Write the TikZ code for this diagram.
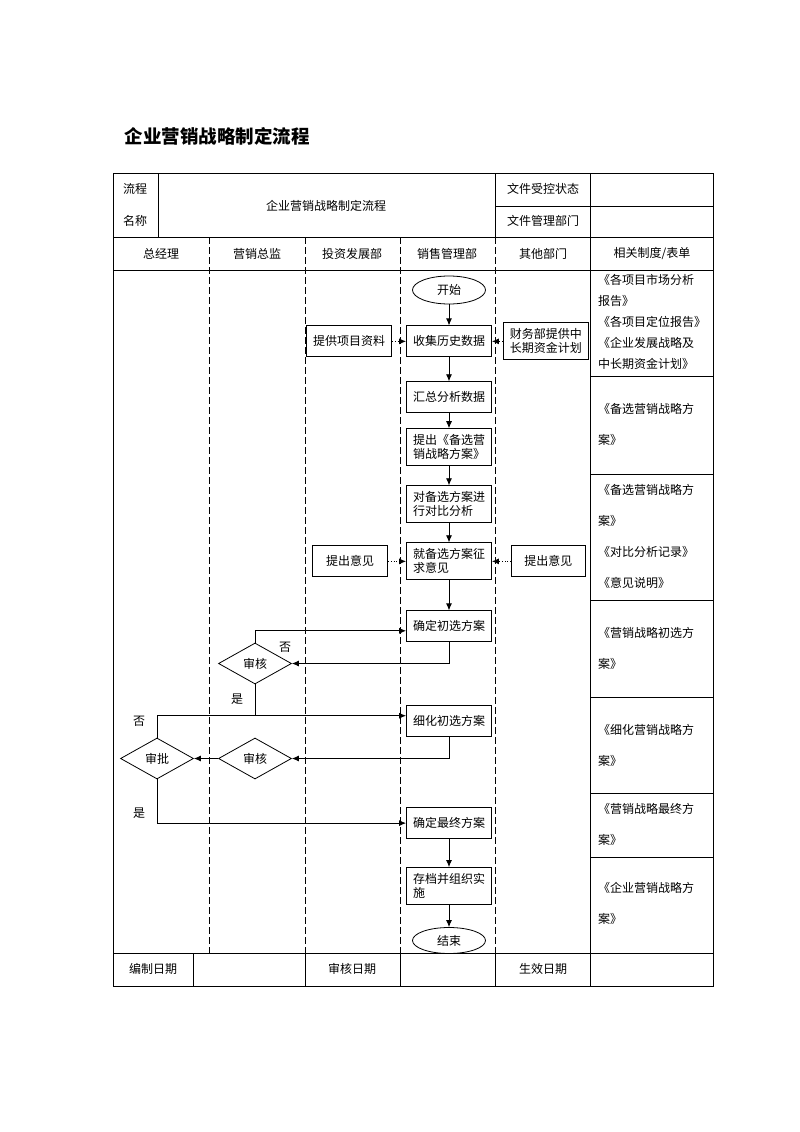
\documentclass[tikz,border=0pt]{standalone}
\usepackage{fontspec}
\setmainfont{Noto Sans CJK SC}
\usetikzlibrary{positioning,shapes.geometric,arrows.meta}

\tikzset{
  proc/.style = {draw, line width=0.9pt, minimum width=85pt, minimum height=31pt,
                 inner xsep=3pt, inner ysep=6pt, align=left},
  term/.style = {draw, ellipse, line width=0.8pt, minimum width=73pt, minimum height=28pt, inner sep=0pt},
  decide/.style = {draw, diamond, line width=0.8pt, minimum width=73pt, minimum height=41pt, inner sep=0pt},
  flow/.style = {-{Latex[length=7pt,width=6pt]}, line width=0.8pt},
  hint/.style = {flow, dotted},
  lane/.style = {dash pattern=on 7pt off 3pt, line width=0.6pt},
  rule/.style = {line width=0.6pt},
  form/.style = {anchor=north west, align=left, inner sep=0pt},
}

\begin{document}
\begin{tikzpicture}[x=1pt, y=1pt, font=\fontsize{12}{14}\selectfont]
  \useasboundingbox (0,0) rectangle (800,-1132);

  \node[anchor=west, font=\fontsize{18.5}{20}\selectfont\bfseries] (title) at (121,-136) {企业营销战略制定流程};

  % table frame
  \draw[rule] (113,-173) rectangle (713,-986);
  \draw[rule] (495,-206) -- (713,-206);
  \draw[rule] (113,-237) -- (713,-237);
  \draw[rule] (113,-270) -- (713,-270);
  \draw[rule] (113,-953) -- (713,-953);
  \foreach \x in {158,495,590}
    \draw[rule] (\x,-173) -- (\x,-237);
  \foreach \x in {209,305,400,495}
    \draw[lane] (\x,-237) -- (\x,-953);
  \draw[rule] (590,-237) -- (590,-986);
  \foreach \x in {193,305,400,495}
    \draw[rule] (\x,-953) -- (\x,-986);
  \foreach \y in {376,474,600,697,793,857}
    \draw[rule] (590,-\y) -- (713,-\y);

  % header texts
  \node (nameA) at (135,-189) {流程};
  \node (nameB) at (135,-221) {名称};
  \node (procname) at (326,-206) {企业营销战略制定流程};
  \node (ctrl) at (543,-189) {文件受控状态};
  \node (dept) at (543,-221) {文件管理部门};
  \node (laneA) at (161,-254) {总经理};
  \node (laneB) at (257,-254) {营销总监};
  \node (laneC) at (352,-254) {投资发展部};
  \node (laneD) at (447,-254) {销售管理部};
  \node (laneE) at (543,-254) {其他部门};
  \node (laneF) at (652,-254) {相关制度/表单};
  \node (dateA) at (153,-969) {编制日期};
  \node (dateB) at (352,-969) {审核日期};
  \node (dateC) at (543,-969) {生效日期};

  % main flow
  \node[term] (start) at (449,-290) {开始};
  \node[proc, below=21pt of start] (collect) {收集历史数据};
  \node[proc, below=24pt of collect] (summary) {汇总分析数据};
  \node[proc, below=15pt of summary] (propose) {提出《备选营\\销战略方案》};
  \node[proc, below=19pt of propose] (compare) {对备选方案进\\行对比分析};
  \node[proc, below=19pt of compare] (consult) {就备选方案征\\求意见};
  \node[proc, below=30pt of consult] (prelim) {确定初选方案};
  \node[proc, below=63pt of prelim] (refine) {细化初选方案};
  \node[proc, below=70pt of refine] (final) {确定最终方案};
  \node[proc, below=28pt of final] (archive) {存档并组织实\\施};
  \node[term, minimum height=26pt, below=22pt of archive] (end) {结束};

  % side nodes
  \node[proc, left=14pt of collect] (provide) {提供项目资料};
  \node[proc, right=11pt of collect] (finance) {财务部提供中\\长期资金计划};
  \node[proc, minimum width=75pt, left=18pt of consult] (adviceL) {提出意见};
  \node[proc, minimum width=74pt, right=19pt of consult] (adviceR) {提出意见};

  % decisions
  \node[decide] (checkA) at (255,-663.5) {审核};
  \node[decide] (checkB) at (255,-758.5) {审核};
  \node[decide] (approve) at (157,-758.5) {审批};

  \foreach \a/\b in {start/collect, collect/summary, summary/propose, propose/compare,
                     compare/consult, consult/prelim, final/archive, archive/end}
    \draw[flow] (\a) -- (\b);

  \draw[hint] (provide) -- (collect);
  \draw[hint] (finance) -- (collect);
  \draw[hint] (adviceL) -- (consult);
  \draw[hint] (adviceR) -- (consult);

  \coordinate (inPrelim) at ([yshift=-4.5pt]prelim.west);
  \coordinate (inRefine) at ([yshift=5.5pt]refine.west);
  \draw[flow] (checkA.north) |- (inPrelim);
  \draw[flow] (prelim.south) |- (checkA.east);
  \draw[flow] (approve.north) |- (inRefine);
  \draw[line width=0.8pt] (checkA.south) -- (checkA.south |- inRefine);
  \draw[flow] (refine.south) |- (checkB.east);
  \draw[flow] (checkB) -- (approve);
  \draw[flow] (approve.south) |- (final.west);

  \node (noA) at (285,-647) {否};
  \node (yesA) at (237,-699) {是};
  \node (noB) at (139,-721) {否};
  \node (yesB) at (139,-813) {是};

  % related forms
  \node[form, font=\fontsize{12}{21}\selectfont] (formA) at (598,-274)
    {《各项目市场分析\\报告》\\《各项目定位报告》\\《企业发展战略及\\中长期资金计划》};
  \node[form, font=\fontsize{12}{31}\selectfont] (formB) at (598,-403) {《备选营销战略方\\案》};
  \node[form, font=\fontsize{12}{31}\selectfont] (formC) at (598,-484)
    {《备选营销战略方\\案》\\《对比分析记录》\\《意见说明》};
  \node[form, font=\fontsize{12}{31}\selectfont] (formD) at (598,-627) {《营销战略初选方\\案》};
  \node[form, font=\fontsize{12}{31}\selectfont] (formE) at (598,-724) {《细化营销战略方\\案》};
  \node[form, font=\fontsize{12}{31}\selectfont] (formF) at (598,-803) {《营销战略最终方\\案》};
  \node[form, font=\fontsize{12}{31}\selectfont] (formG) at (598,-882) {《企业营销战略方\\案》};
\end{tikzpicture}
\end{document}
